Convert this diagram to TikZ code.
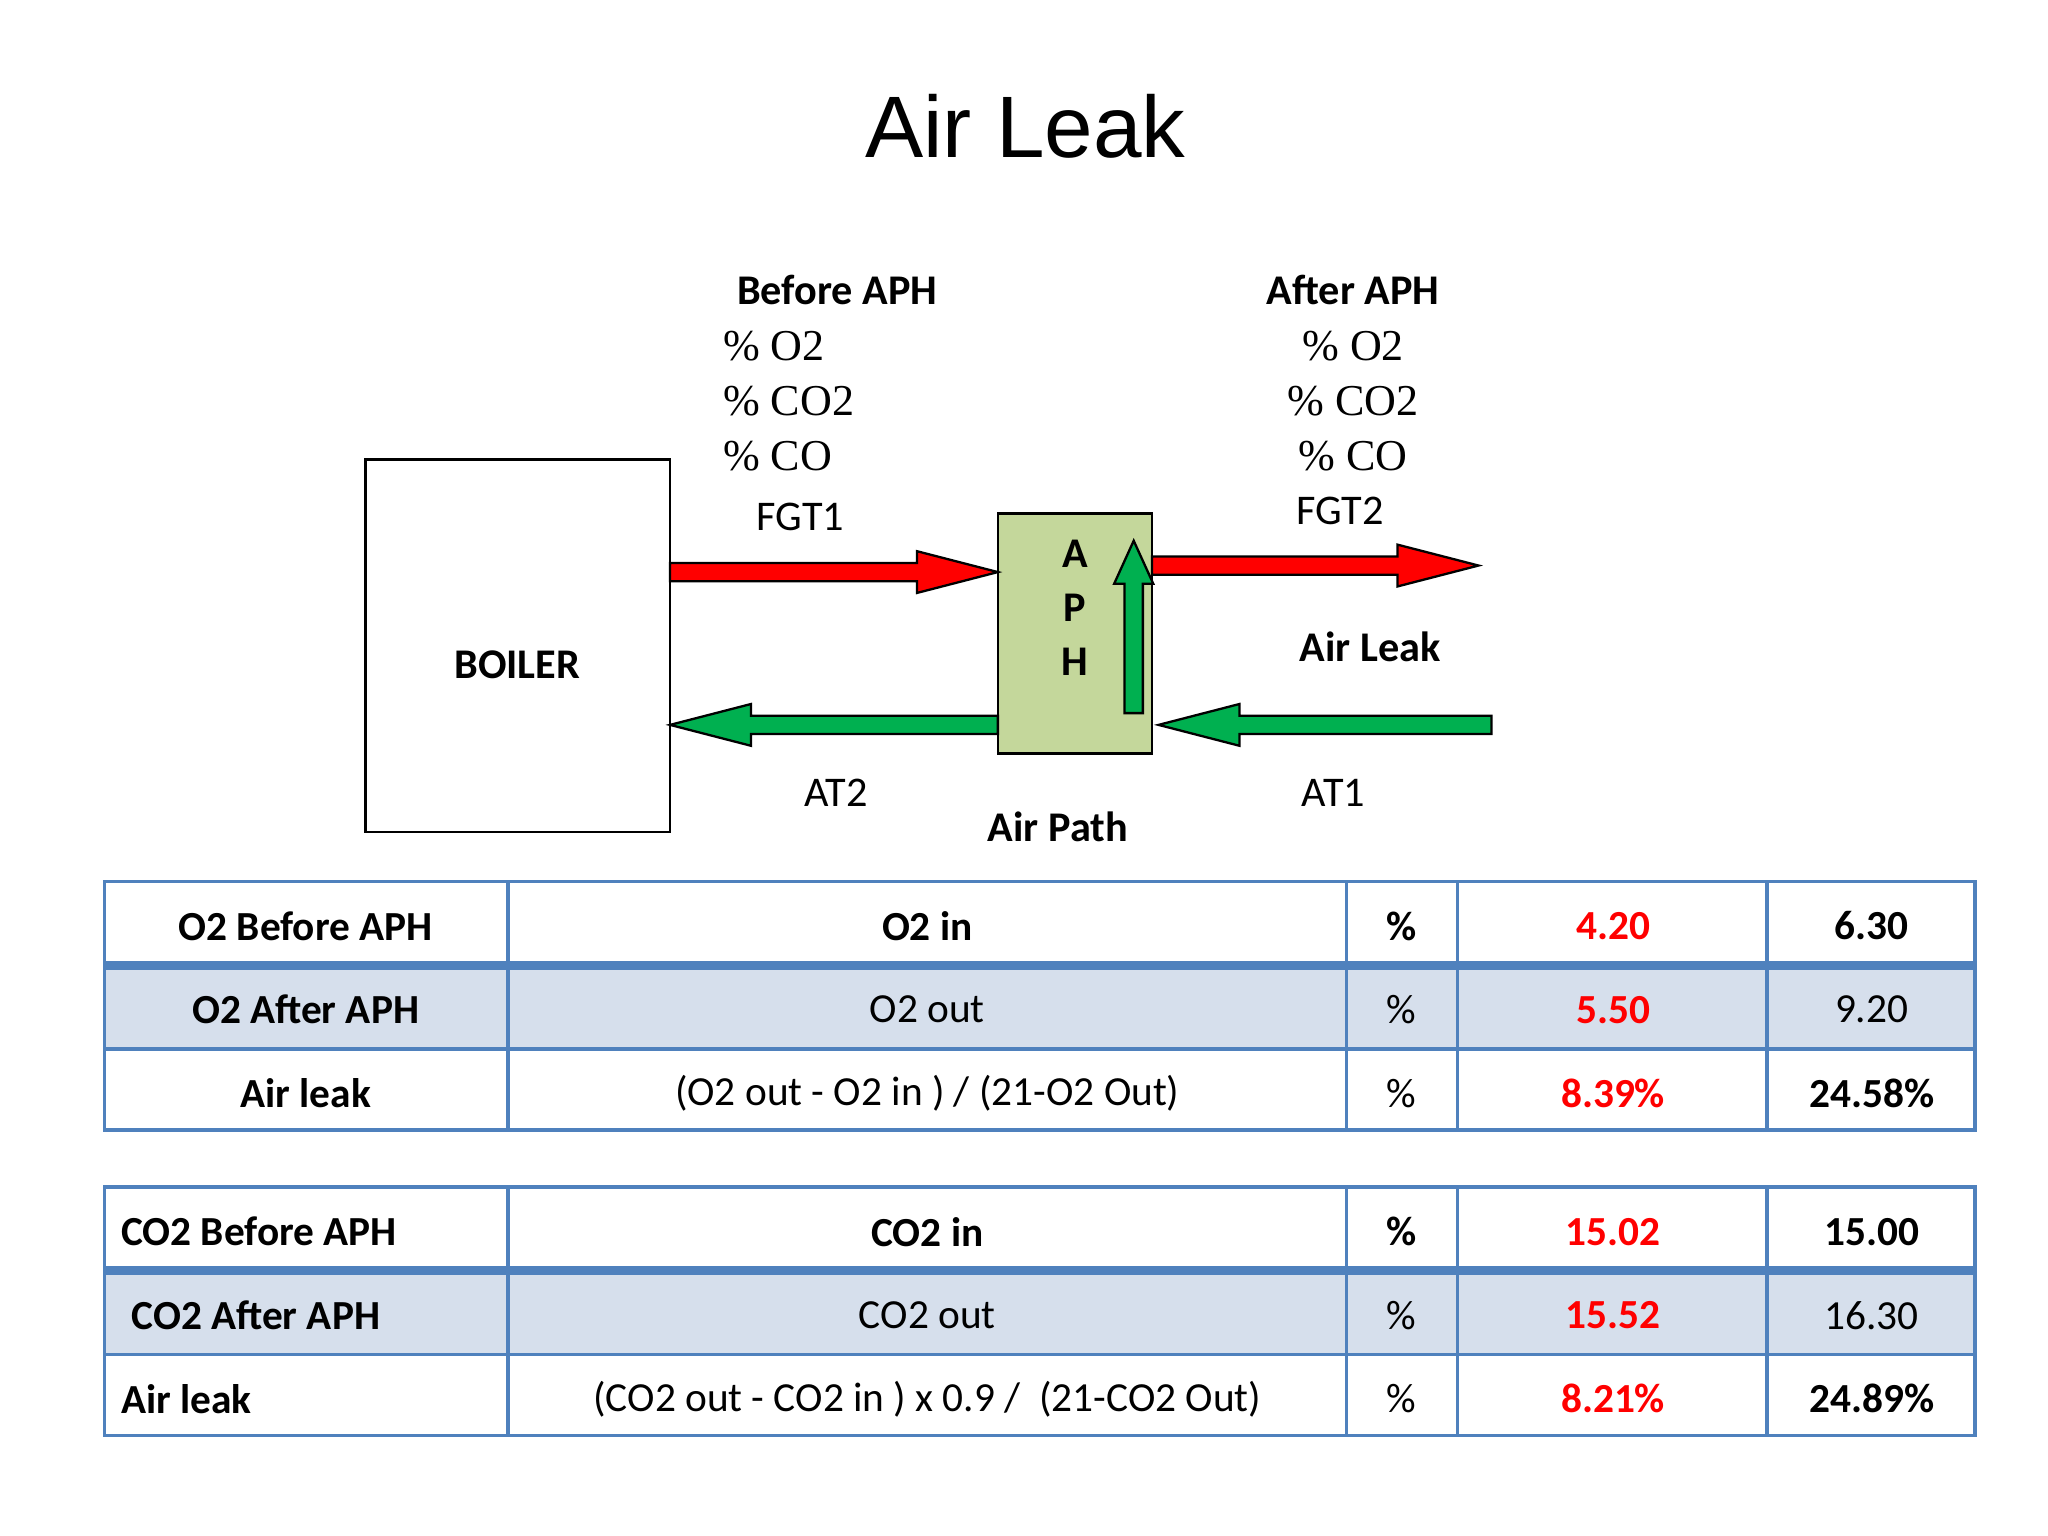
\documentclass[tikz,border=0pt]{standalone}
\usepackage{fontspec}
\setmainfont{Carlito}
\newfontfamily\titlefont{Liberation Sans}
\newfontfamily\serif{Liberation Serif}
\begin{document}
\begin{tikzpicture}[x=0.01cm,y=-0.01cm,
  lbl/.style={inner sep=0pt,font=\fontsize{9.2}{11}\selectfont},
  blbl/.style={lbl,font=\fontsize{9.2}{11}\selectfont\bfseries},
  slbl/.style={inner sep=0pt,font=\fontsize{9.6}{11}\selectfont\serif},
  cell/.style={inner sep=0pt,font=\fontsize{9}{11}\selectfont},
  red val/.style={text=red},
  tb/.style={draw=tblue,line width=0.8pt}]
\definecolor{tblue}{HTML}{4F81BD}
\definecolor{rowblue}{HTML}{D6DFEC}
\definecolor{aphg}{HTML}{C4D79B}
\definecolor{arrg}{HTML}{00B050}
\useasboundingbox (0,0) rectangle (1568,1176);
\fill[white] (0,0) rectangle (1568,1176);
% title
\node[inner sep=0pt,font=\fontsize{19}{22}\selectfont\titlefont] (title) at (785,97) {Air Leak};
% boxes
\draw[line width=0.6pt] (280,352) rectangle (513,637);
\node[blbl] (boiler) at (396,509) {BOILER};
\draw[fill=aphg,line width=0.6pt] (764,393) rectangle (882,577);
\node[blbl] (a) at (823,424) {A};
\node[blbl] (p) at (823,465) {P};
\node[blbl] (h) at (823,507) {H};
% arrows
\newcommand{\harrow}[4]{% x1 y x2 color (x2 = tip)
  \pgfmathsetmacro{\dir}{(#3>#1)?1:-1}
  \draw[fill=#4,line width=0.5pt] (#1,#2-7) -- ({#3-\dir*62},#2-7) -- ({#3-\dir*62},#2-16) -- (#3,#2) -- ({#3-\dir*62},#2+16) -- ({#3-\dir*62},#2+7) -- (#1,#2+7) -- cycle;}
\harrow{513}{438}{764}{red}
\harrow{882}{433}{1132}{red}
\harrow{764}{555}{513}{arrg}
\harrow{1142}{555}{887}{arrg}
\draw[fill=arrg,line width=0.5pt] (861,546) -- (861,447) -- (853,447) -- (868,414) -- (883,447) -- (875,447) -- (875,546) -- cycle;
% labels
\node[blbl] (bef) at (641,222) {Before APH};
\node[slbl,anchor=west] (b1) at (553,265) {\% O2};
\node[slbl,anchor=west] (b2) at (553,307) {\% CO2};
\node[slbl,anchor=west] (b3) at (553,349) {\% CO};
\node[lbl] (fgt1) at (613,396) {FGT1};
\node[blbl] (aft) at (1036,222) {After APH};
\node[slbl] (a1) at (1036,265) {\% O2};
\node[slbl] (a2) at (1036,307) {\% CO2};
\node[slbl] (a3) at (1036,349) {\% CO};
\node[lbl] (fgt2) at (1026,391) {FGT2};
\node[blbl] (al) at (1049,495) {Air Leak};
\node[lbl] (at2) at (640,607) {AT2};
\node[lbl] (at1) at (1021,607) {AT1};
\node[blbl] (ap) at (810,633) {Air Path};
% tables
\newcommand{\tbl}[1]{%
  \fill[rowblue] (80,#1+64) rectangle (1512,#1+128);
  \draw[tb] (80,#1) rectangle (1512,#1+190);
  \draw[tb] (80,#1+128) -- (1512,#1+128);
  \draw[draw=tblue,line width=2pt] (80,#1+64) -- (1512,#1+64);
  \foreach \cx in {389,1031,1116,1353} \draw[tb] (\cx,#1) -- (\cx,#1+190);}
\tbl{675}
\tbl{909}
\node[cell,font=\fontsize{9}{11}\selectfont\bfseries] (r1a) at (234,709) {O2 Before APH};
\node[cell,font=\fontsize{9}{11}\selectfont\bfseries] (r1b) at (710,709) {O2 in};
\node[cell,font=\fontsize{9}{11}\selectfont\bfseries] (r1c) at (1073,709) {\%};
\node[cell,font=\fontsize{9}{11}\selectfont\bfseries,red val] (r1d) at (1235,709) {4.20};
\node[cell,font=\fontsize{9}{11}\selectfont\bfseries] (r1e) at (1433,709) {6.30};
\node[cell,font=\fontsize{9}{11}\selectfont\bfseries] (r2a) at (234,773) {O2 After APH};
\node[cell] (r2b) at (710,773) {O2 out};
\node[cell] (r2c) at (1073,773) {\%};
\node[cell,font=\fontsize{9}{11}\selectfont\bfseries,red val] (r2d) at (1235,773) {5.50};
\node[cell] (r2e) at (1433,773) {9.20};
\node[cell,font=\fontsize{9}{11}\selectfont\bfseries] (r3a) at (234,837) {Air leak};
\node[cell] (r3b) at (710,837) {(O2 out - O2 in ) / (21-O2 Out)};
\node[cell] (r3c) at (1073,837) {\%};
\node[cell,font=\fontsize{9}{11}\selectfont\bfseries,red val] (r3d) at (1235,837) {8.39\%};
\node[cell,font=\fontsize{9}{11}\selectfont\bfseries] (r3e) at (1433,837) {24.58\%};
\node[cell,font=\fontsize{9}{11}\selectfont\bfseries,anchor=west] (s1a) at (92,943) {CO2 Before APH};
\node[cell,font=\fontsize{9}{11}\selectfont\bfseries] (s1b) at (710,943) {CO2 in};
\node[cell,font=\fontsize{9}{11}\selectfont\bfseries] (s1c) at (1073,943) {\%};
\node[cell,font=\fontsize{9}{11}\selectfont\bfseries,red val] (s1d) at (1235,943) {15.02};
\node[cell,font=\fontsize{9}{11}\selectfont\bfseries] (s1e) at (1433,943) {15.00};
\node[cell,font=\fontsize{9}{11}\selectfont\bfseries,anchor=west] (s2a) at (100,1007) {CO2 After APH};
\node[cell] (s2b) at (710,1007) {CO2 out};
\node[cell] (s2c) at (1073,1007) {\%};
\node[cell,font=\fontsize{9}{11}\selectfont\bfseries,red val] (s2d) at (1235,1007) {15.52};
\node[cell] (s2e) at (1433,1007) {16.30};
\node[cell,font=\fontsize{9}{11}\selectfont\bfseries,anchor=west] (s3a) at (92,1071) {Air leak};
\node[cell] (s3b) at (710,1071) {(CO2 out - CO2 in ) x 0.9 /\ \ (21-CO2 Out)};
\node[cell] (s3c) at (1073,1071) {\%};
\node[cell,font=\fontsize{9}{11}\selectfont\bfseries,red val] (s3d) at (1235,1071) {8.21\%};
\node[cell,font=\fontsize{9}{11}\selectfont\bfseries] (s3e) at (1433,1071) {24.89\%};
\end{tikzpicture}
\end{document}
